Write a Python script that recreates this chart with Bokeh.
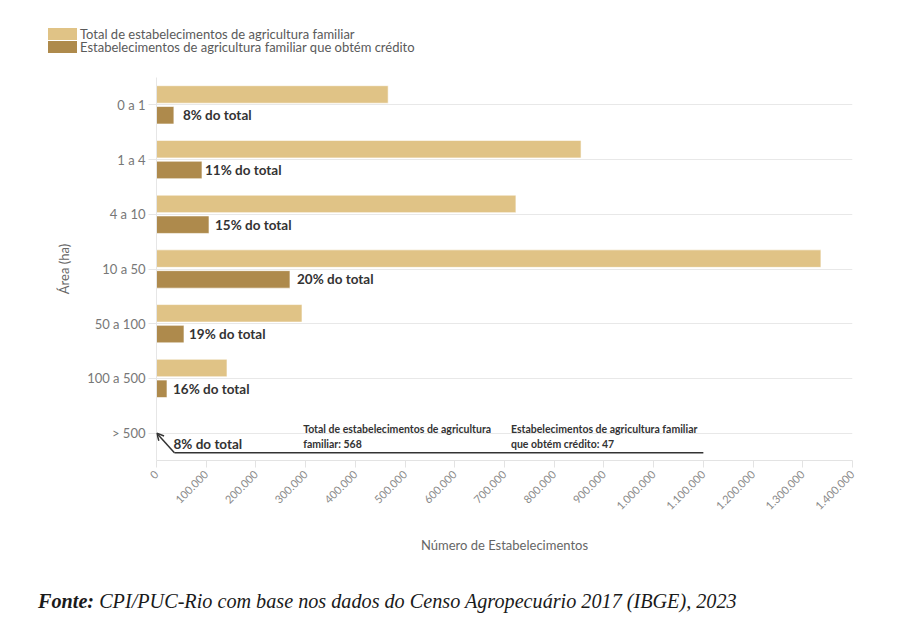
import math
from bokeh.plotting import figure
from bokeh.layouts import column
from bokeh.models import (Range1d, FixedTicker, Label, Arrow, OpenHead, ColumnDataSource, Div)
from bokeh.core.properties import value
from bokeh.embed import file_html
from bokeh.resources import INLINE

categories = ["0 a 1", "1 a 4", "4 a 10", "10 a 50", "50 a 100", "100 a 500", "> 500"]
total_familiar = [466000, 854000, 723000, 1336500, 292700, 141800, 568]
com_credito = [35000, 91500, 105600, 268500, 55300, 21100, 47]
pct_labels = ["8% do total", "11% do total", "15% do total", "20% do total",
              "19% do total", "16% do total", "8% do total"]
x_ticks = [0, 100000, 200000, 300000, 400000, 500000, 600000, 700000,
           800000, 900000, 1000000, 1100000, 1200000, 1300000, 1400000]
x_tick_labels = ["0", "100.000", "200.000", "300.000", "400.000", "500.000",
                 "600.000", "700.000", "800.000", "900.000", "1.000.000",
                 "1.100.000", "1.200.000", "1.300.000", "1.400.000"]
legend_labels = ["Total de estabelecimentos de agricultura familiar",
                 "Estabelecimentos de agricultura familiar que obtém crédito"]
note_total = "Total de estabelecimentos de agricultura\nfamiliar: 568"
note_credito = "Estabelecimentos de agricultura familiar\nque obtém crédito: 47"
source_bold = "Fonte:"
source_text = "CPI/PUC-Rio com base nos dados do Censo Agropecuário 2017 (IBGE), 2023"

# style
C_TOTAL = "#E0C386"
C_CRED = "#AE8A4C"
FONT = "Lato"
SERIF = "Liberation Serif"
label_gaps = [9, 3, 6, 7, 5, 6, 17]
W = 893
LH, MH, FH = 60, 510, 41

# ---- legend (HTML) ----
sw = "position:absolute;left:48px;width:28.5px;height:11.5px;"
tx = ("position:absolute;left:80px;height:13px;line-height:13px;white-space:nowrap;"
      f"font-family:{FONT};font-size:13px;color:#5a5a5a;")
legend_html = (
    f'<div style="position:relative;width:{W}px;height:{LH}px;">'
    f'<div style="{sw}top:28.3px;background:{C_TOTAL};"></div>'
    f'<div style="{tx}top:27.5px;">{legend_labels[0]}</div>'
    f'<div style="{sw}top:41px;background:{C_CRED};"></div>'
    f'<div style="{tx}top:41px;">{legend_labels[1]}</div>'
    '</div>'
)
legend_div = Div(text=legend_html, width=W, height=LH, margin=0)

# ---- main chart ----
idx = list(range(len(categories)))
src = ColumnDataSource(dict(
    y_tot=[i - 0.19 for i in idx],
    y_cred=[i + 0.19 for i in idx],
    total=total_familiar,
    cred=com_credito,
    lab=pct_labels,
    gap=label_gaps,
))

p = figure(width=W, height=MH,
           x_range=Range1d(0, 1400000), y_range=Range1d(6.5, -0.5),
           min_border_left=156, min_border_right=41, min_border_top=77 - LH,
           min_border_bottom=MH - (77 - LH) - 383,
           output_backend="svg", toolbar_location=None)
p.outline_line_color = None

p.hbar(y="y_tot", right="total", left=0, height=0.32, source=src,
       fill_color=C_TOTAL, line_color="white", line_alpha=0.6, line_width=1)
p.hbar(y="y_cred", right="cred", left=0, height=0.32, source=src,
       fill_color=C_CRED, line_color="white", line_alpha=0.6, line_width=1)

p.text(x="cred", y="y_cred", text="lab", source=src, x_offset="gap",
       text_font=value(FONT), text_font_style="bold", text_font_size="13.5px",
       text_color="#333333", text_baseline="middle", text_align="left")

xa = p.xaxis[0]
xa.ticker = FixedTicker(ticks=x_ticks)
xa.major_label_overrides = {t: l for t, l in zip(x_ticks, x_tick_labels)}
xa.major_label_orientation = math.pi / 4
xa.major_label_text_font = FONT
xa.major_label_text_font_size = "11px"
xa.major_label_text_color = "#8a8a8a"
xa.major_label_standoff = 5
xa.axis_line_color = "#e3e3e3"
xa.major_tick_line_color = "#e3e3e3"
xa.major_tick_out = 7
xa.major_tick_in = 0
xa.minor_tick_line_color = None
xa.axis_label = "Número de Estabelecimentos"
xa.axis_label_text_font = FONT
xa.axis_label_text_font_style = "normal"
xa.axis_label_text_font_size = "13px"
xa.axis_label_text_color = "#666666"
xa.axis_label_standoff = 21

ya = p.yaxis[0]
ya.ticker = FixedTicker(ticks=idx)
ya.major_label_overrides = {i: c for i, c in zip(idx, categories)}
ya.major_label_text_font = FONT
ya.major_label_text_font_size = "13px"
ya.major_label_text_color = "#777777"
ya.major_label_standoff = 3
ya.axis_line_color = "#e6e6e6"
ya.major_tick_line_color = "#e6e6e6"
ya.major_tick_out = 8
ya.major_tick_in = 0
ya.minor_tick_line_color = None
ya.axis_label = "Área (ha)"
ya.axis_label_text_font = FONT
ya.axis_label_text_font_style = "normal"
ya.axis_label_text_font_size = "13px"
ya.axis_label_text_color = "#666666"
ya.axis_label_standoff = 12

p.xgrid.grid_line_color = None
p.ygrid.grid_line_color = "#e8e8e8"
p.ygrid.ticker = FixedTicker(ticks=idx)

# annotation for > 500
p.segment(x0=36000, y0=6.36, x1=1100000, y1=6.36, line_color="#333333", line_width=1.5)
p.add_layout(Arrow(end=OpenHead(size=7, line_color="#333333", line_width=1.5),
                   x_start=36000, y_start=6.36, x_end=total_familiar[6], y_end=6.0,
                   line_color="#333333", line_width=1.5))
for txt, xx in [(note_total, 295000), (note_credito, 713000)]:
    p.add_layout(Label(x=xx, y=6.3, text=txt, text_font=FONT, text_font_style="bold",
                       text_font_size="10.5px", text_color="#333333",
                       text_baseline="bottom", text_align="left", text_line_height=1.25))

# ---- source line (HTML) ----
src_html = (
    f'<div style="position:relative;width:{W}px;height:{FH}px;">'
    f'<div style="position:absolute;left:38px;top:{608.3 - LH - MH - 16.9:.1f}px;'
    f'line-height:20px;white-space:nowrap;font-family:\'{SERIF}\';font-size:20.2px;'
    f'color:#1a1a1a;font-style:italic;">'
    f'<b>{source_bold}</b> {source_text}</div></div>'
)
source_div = Div(text=src_html, width=W, height=FH, margin=0)

layout = column(legend_div, p, source_div, spacing=0)
open("out.html", "w").write(file_html(layout, INLINE))
